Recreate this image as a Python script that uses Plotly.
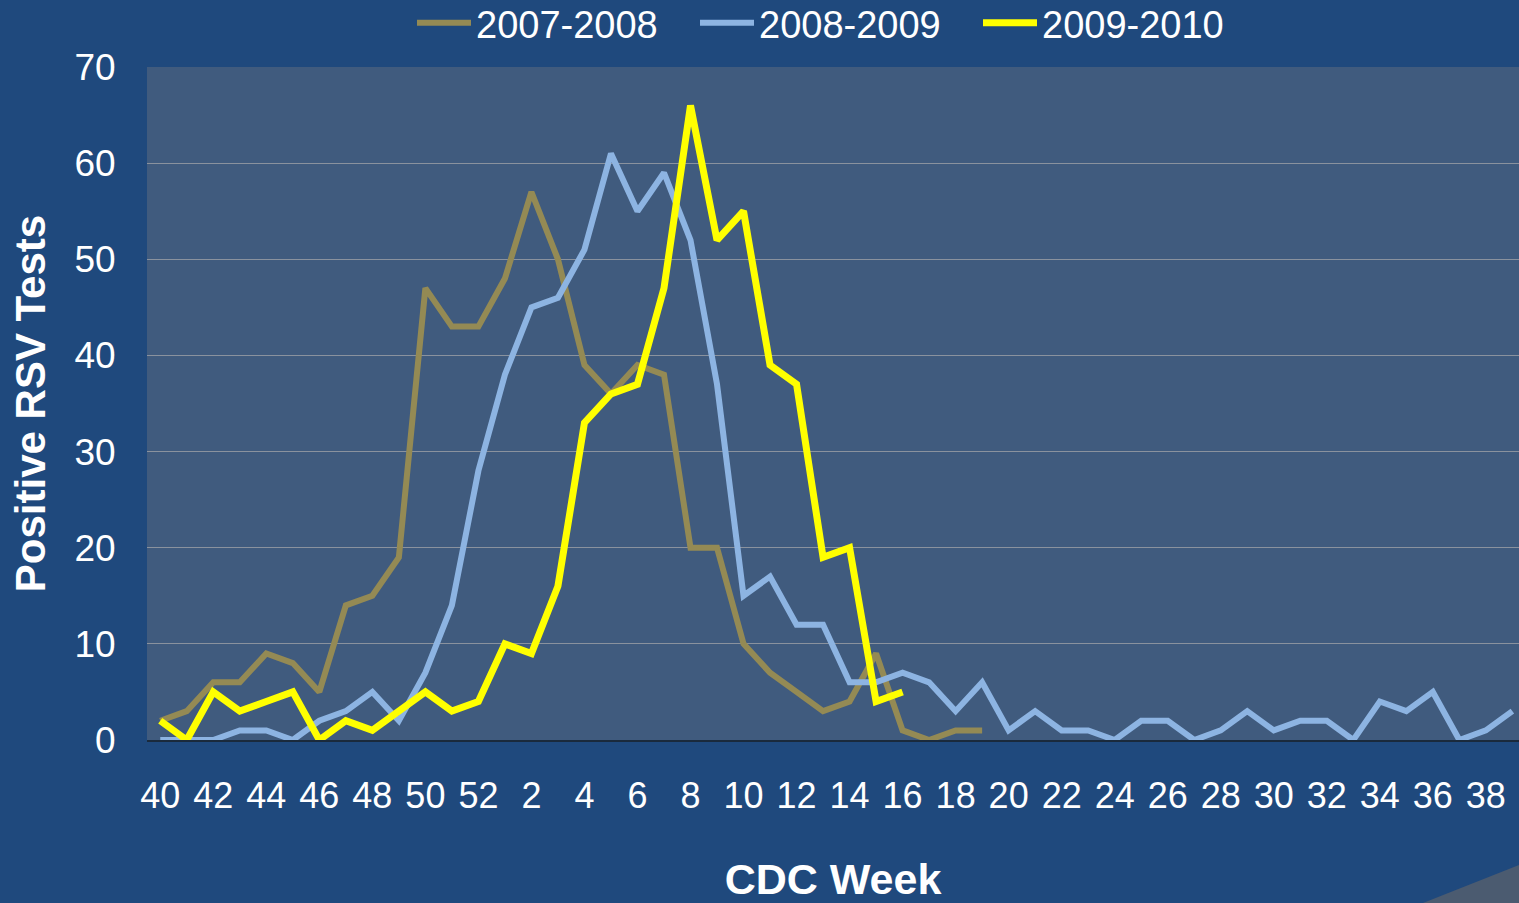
import plotly.graph_objects as go

weeks = [str(w) for w in list(range(40, 53)) + list(range(1, 40))]
tick_labels = weeks[::2]

s0708 = [2, 3, 6, 6, 9, 8, 5, 14, 15, 19, 47, 43, 43, 48, 57, 50, 39, 36, 39, 38,
         20, 20, 10, 7, 5, 3, 4, 9, 1, 0, 1, 1]
s0809 = [0, 0, 0, 1, 1, 0, 2, 3, 5, 2, 7, 14, 28, 38, 45, 46, 51, 61, 55, 59,
         52, 37, 15, 17, 12, 12, 6, 6, 7, 6, 3, 6, 1, 3, 1, 1, 0, 2, 2, 0,
         1, 3, 1, 2, 2, 0, 4, 3, 5, 0, 1, 3]
s0910 = [2, 0, 5, 3, 4, 5, 0, 2, 1, 3, 5, 3, 4, 10, 9, 16, 33, 36, 37, 47,
         66, 52, 55, 39, 37, 19, 20, 4, 5]

series = [
    ("2007-2008", s0708, "#948A54", 6),
    ("2008-2009", s0809, "#8DB4E2", 6),
    ("2009-2010", s0910, "#FFFF00", 7),
]

fig = go.Figure()
for name, vals, color, w in series:
    fig.add_trace(go.Scatter(
        x=weeks[:len(vals)], y=vals, name=name, mode="lines",
        line=dict(color=color, width=w), cliponaxis=False,
    ))

L, R, T, B = 147, 0, 67, 163
W, H = 1519, 903
pw, ph = W - L - R, H - T - B

def px_x(p):
    return (p - L) / pw

def px_y(p):
    return (H - B - p) / ph

fig.add_shape(type="path", xref="paper", yref="paper",
              path=f"M {px_x(1423)} {px_y(903)} L {px_x(1519)} {px_y(865)} L {px_x(1519)} {px_y(903)} Z",
              fillcolor="#4B5B70", line=dict(width=0), layer="below")

fig.update_layout(
    width=W, height=H,
    margin=dict(l=L, r=R, t=T, b=B, autoexpand=False),
    paper_bgcolor="#1F497D",
    plot_bgcolor="#405B7E",
    font=dict(family="Liberation Sans, Arial, sans-serif", color="white", size=36),
    showlegend=True,
    legend=dict(orientation="h", xanchor="left", yanchor="middle",
                x=px_x(412), y=px_y(23), font=dict(size=38, color="white"),
                bgcolor="rgba(0,0,0,0)", entrywidth=214, entrywidthmode="pixels",
                itemwidth=54, tracegroupgap=0),
    xaxis=dict(
        type="category", categoryorder="array", categoryarray=weeks,
        range=[-0.5, 51.25],
        tickmode="array", tickvals=tick_labels, ticktext=tick_labels,
        ticks="outside", ticklen=23, tickcolor="rgba(0,0,0,0)",
        tickfont=dict(size=36, color="white"),
        showgrid=False, showline=True, linecolor="#1A2A3C", linewidth=2,
        zeroline=False,
        title=dict(text="<b>CDC Week</b>", font=dict(size=43, color="white"), standoff=61),
    ),
    yaxis=dict(
        range=[0, 70], dtick=10,
        ticks="outside", ticklen=23, tickcolor="rgba(0,0,0,0)",
        tickfont=dict(size=37, color="white"),
        showgrid=True, gridcolor="#8A929E", gridwidth=1,
        zeroline=False, showline=False,
        title=dict(text="<b>Positive RSV Tests</b>", font=dict(size=42, color="white"), standoff=15),
    ),
)

fig.write_html("out.html", config={"displayModeBar": False},
               post_script="document.body.style.margin='0';")
